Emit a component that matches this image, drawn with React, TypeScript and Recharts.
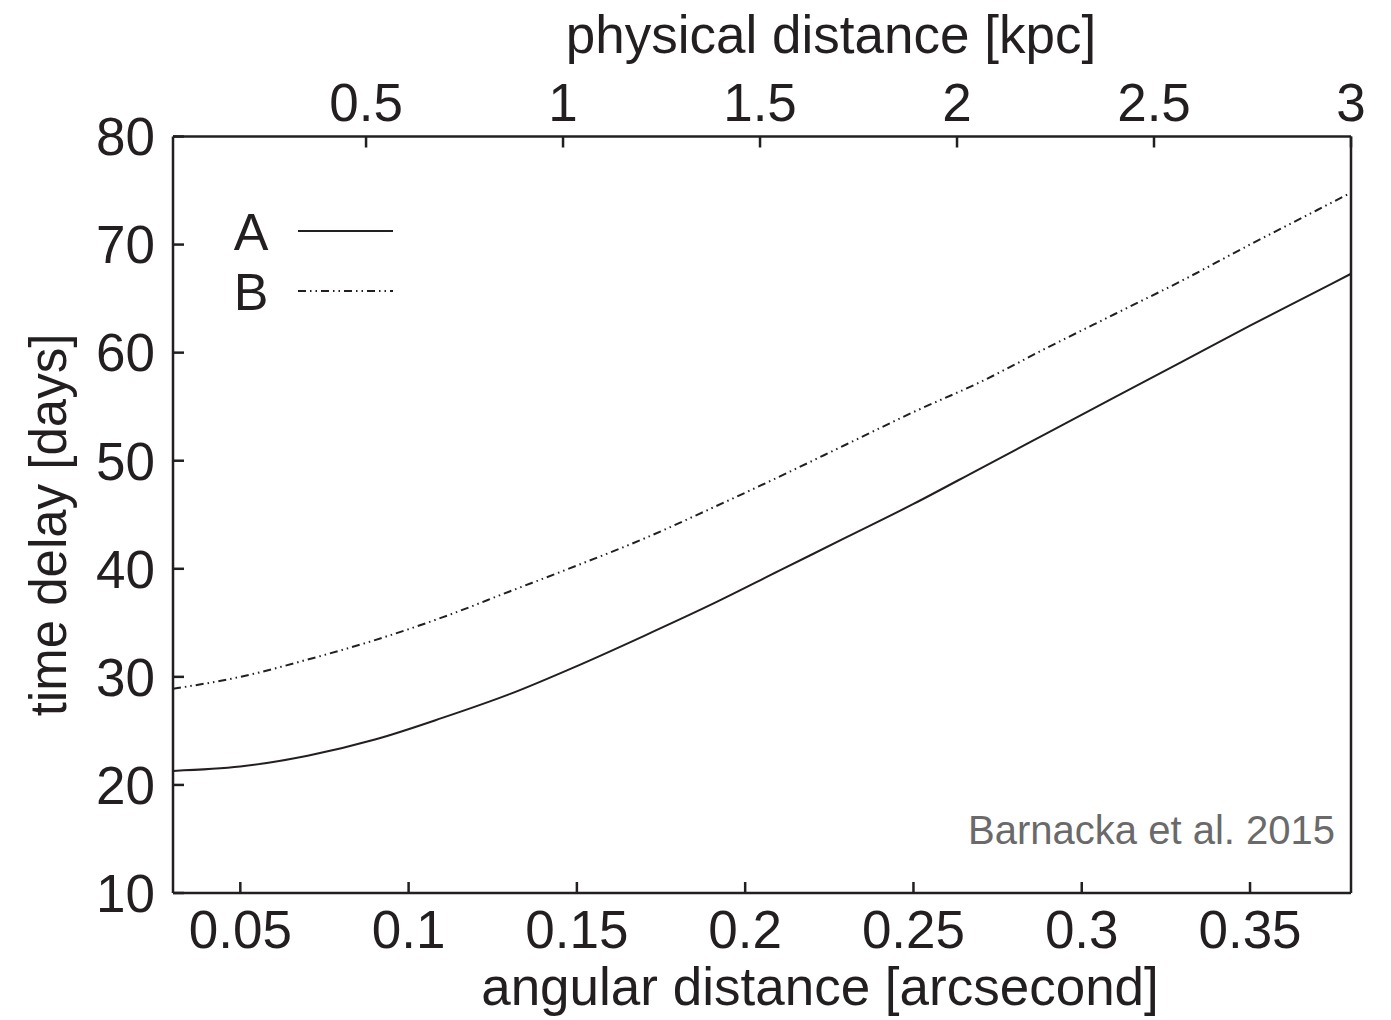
import React from "react";
import { LineChart, Line, XAxis, YAxis, Legend, Customized } from "recharts";

const angular = [0.03, 0.05, 0.07, 0.09, 0.11, 0.13, 0.15, 0.17, 0.19, 0.21, 0.23, 0.25, 0.27, 0.29, 0.31, 0.33, 0.35, 0.37, 0.38];
const delayA = [21.3, 21.7, 22.7, 24.2, 26.2, 28.4, 31.0, 33.8, 36.7, 39.8, 42.9, 46.0, 49.3, 52.6, 55.9, 59.2, 62.5, 65.7, 67.3];
const delayB = [28.9, 30.0, 31.6, 33.4, 35.5, 37.9, 40.3, 42.8, 45.6, 48.5, 51.5, 54.5, 57.3, 60.5, 63.6, 66.7, 70.0, 73.2, 74.8];

const bottomTicks = [0.05, 0.1, 0.15, 0.2, 0.25, 0.3, 0.35];
const topTicks = [0.5, 1, 1.5, 2, 2.5, 3];
const yTicks = [10, 20, 30, 40, 50, 60, 70, 80];

const seriesNames = ["A", "B"];
const seriesDash = ["0", "8 4 1.5 4 1.5 4"];

const data = angular.map((x, i) => ({ x, A: delayA[i], B: delayB[i] }));

const INK = "#231f20";
const FONT = "'Liberation Sans', Arial, Helvetica, sans-serif";
const tickStyle = { fontSize: 53, fill: INK, fontFamily: FONT };
const axisLineStyle = { stroke: INK, strokeWidth: 2.5 };

const LegendBox = () => (
  <svg width={180} height={130} style={{ display: "block" }}>
    {seriesNames.map((n, i) => (
      <g key={n}>
        <text x={31} y={60 + i * 60} textAnchor="middle" fontSize={52} fill={INK} fontFamily={FONT}>
          {n}
        </text>
        <line
          x1={78}
          x2={173}
          y1={41 + i * 60}
          y2={41 + i * 60}
          stroke={INK}
          strokeWidth={2}
          strokeDasharray={seriesDash[i] === "0" ? undefined : seriesDash[i]}
        />
      </g>
    ))}
  </svg>
);

const Texts = () => (
  <g fontFamily={FONT}>
    <text x={823} y={45} textAnchor="middle" fontSize={53} fill={INK}>
      physical distance [kpc]
    </text>
    <text x={812} y={997} textAnchor="middle" fontSize={53} fill={INK}>
      angular distance [arcsecond]
    </text>
    <text
      x={40}
      y={517}
      textAnchor="middle"
      dominantBaseline="central"
      fontSize={51}
      fill={INK}
      transform="rotate(-90, 40, 517)"
    >
      time delay [days]
    </text>
    <text x={1327} y={836} textAnchor="end" fontSize={40} fill="#6a6a6a">
      Barnacka et al. 2015
    </text>
  </g>
);

export default function App() {
  return (
    <div style={{ width: 1375, height: 1010, background: "#fff" }}>
      <LineChart width={1375} height={1010} data={data} margin={{ top: 0, right: 12, bottom: 0, left: 0 }}>
        <XAxis
          xAxisId="bottom"
          dataKey="x"
          type="number"
          orientation="bottom"
          domain={[0.03, 0.38]}
          allowDataOverflow
          ticks={bottomTicks}
          interval={0}
          height={125}
          tickSize={-11}
          tickMargin={28}
          tick={tickStyle}
          axisLine={axisLineStyle}
          tickLine={axisLineStyle}
        />
        <XAxis
          xAxisId="top"
          dataKey="x"
          type="number"
          orientation="top"
          domain={[0.01, 3]}
          allowDataOverflow
          ticks={topTicks}
          interval={0}
          height={128.5}
          tickSize={-11}
          tickMargin={26.5}
          tick={tickStyle}
          axisLine={axisLineStyle}
          tickLine={axisLineStyle}
        />
        <YAxis
          yAxisId="left"
          orientation="left"
          type="number"
          domain={[10, 80]}
          allowDataOverflow
          ticks={yTicks}
          interval={0}
          width={165}
          tickSize={-11}
          tickMargin={29}
          tick={tickStyle}
          axisLine={axisLineStyle}
          tickLine={axisLineStyle}
        />
        <YAxis
          yAxisId="right"
          orientation="right"
          type="number"
          domain={[10, 80]}
          allowDataOverflow
          ticks={yTicks}
          interval={0}
          width={20}
          tickSize={-11}
          tick={false}
          axisLine={axisLineStyle}
          tickLine={axisLineStyle}
        />
        <Line
          xAxisId="bottom"
          yAxisId="left"
          type="monotone"
          dataKey="A"
          name="A"
          stroke={INK}
          strokeWidth={2}
          dot={false}
          activeDot={false}
          isAnimationActive={false}
        />
        <Line
          xAxisId="bottom"
          yAxisId="left"
          type="monotone"
          dataKey="B"
          name="B"
          stroke={INK}
          strokeWidth={2}
          strokeDasharray={seriesDash[1]}
          dot={false}
          activeDot={false}
          isAnimationActive={false}
        />
        <Legend
          layout="vertical"
          align="center"
          verticalAlign="middle"
          wrapperStyle={{ left: 212, top: 182, width: 180, height: 130 }}
          content={() => <LegendBox />}
        />
        <Customized component={Texts} />
      </LineChart>
    </div>
  );
}
